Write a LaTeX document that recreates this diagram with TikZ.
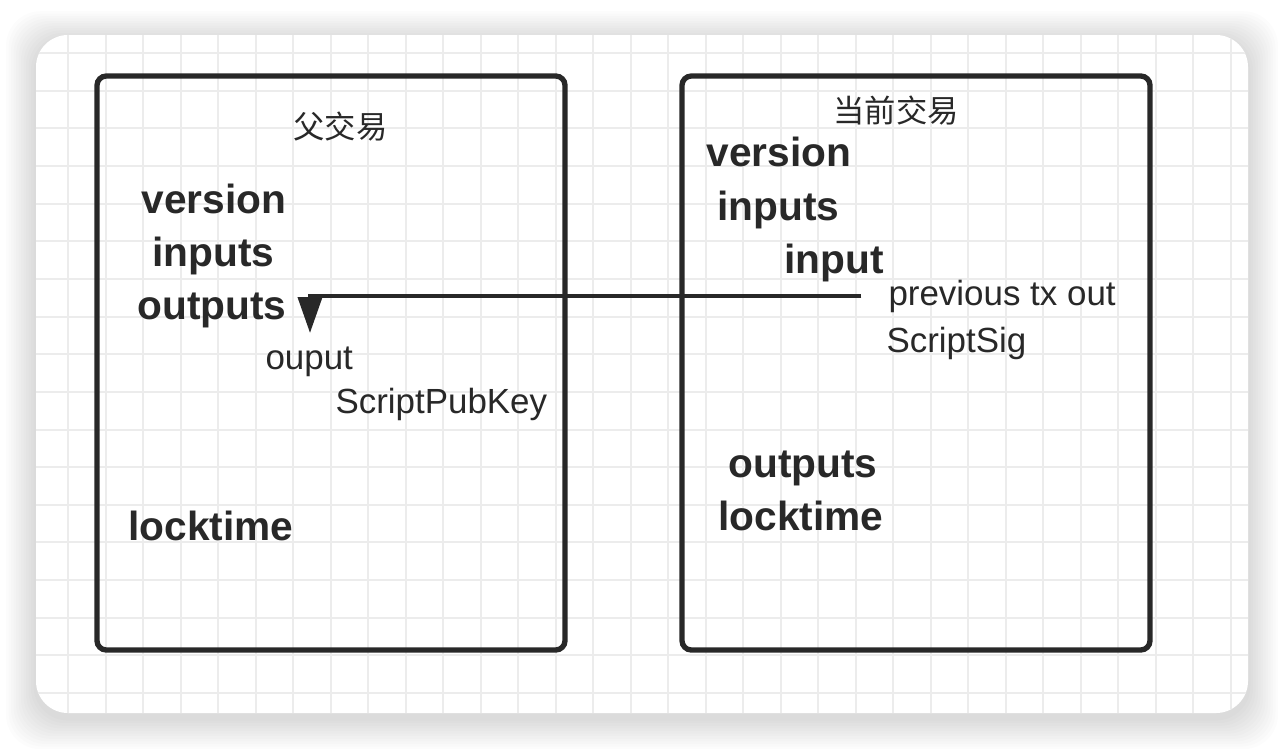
\documentclass[tikz,border=0pt]{standalone}
\usepackage{fontspec}
\setmainfont{Liberation Sans}
\newfontfamily\cjkfont{Noto Sans CJK SC}
\usetikzlibrary{arrows.meta}
\definecolor{inkgray}{RGB}{40,40,40}
\definecolor{gridgray}{RGB}{236,236,236}

\tikzset{every picture/.style={line width=0.75pt}}
\tikzset{
  txbox/.style={draw=inkgray, line width=4pt, rounded corners=7pt},
  field/.style={anchor=base west, inner sep=0pt, text=inkgray, font=\fontsize{30.5}{34}\selectfont\bfseries},
  subfield/.style={anchor=base west, inner sep=0pt, text=inkgray, font=\fontsize{26.2}{30}\selectfont},
  txtitle/.style={anchor=west, inner sep=0pt, text=inkgray, font=\cjkfont\fontsize{23.5}{28}\selectfont},
  link/.style={draw=inkgray, line width=3pt, -{Triangle[length=27pt,width=18pt]}},
}

\begin{document}
\begin{tikzpicture}[x=0.75pt,y=0.75pt,yscale=-1,xscale=1]
\useasboundingbox (0,0) rectangle (1284,750);

%Shadow of the card
\foreach \s in {1,...,12}
  \fill[black, fill opacity=0.013, rounded corners=26pt] (36-2.5*\s,40-2.4*\s) rectangle (1248+2.5*\s,718+2.6*\s);

%Card
\fill[white, rounded corners=24pt] (36,35) rectangle (1248,713);

%Grid
\begin{scope}
\clip[rounded corners=24pt] (36,35) rectangle (1248,713);
\foreach \gx in {-1,...,31}
  \draw[gridgray, line width=1.5pt] (68+37.5*\gx,35) -- (68+37.5*\gx,713);
\foreach \gy in {0,...,17}
  \draw[gridgray, line width=1.5pt] (36,53+37.65*\gy) -- (1248,53+37.65*\gy);
\end{scope}

%Shape: Parent tx box
\draw[txbox] (97,76) rectangle (565,650);
%Shape: Current tx box
\draw[txbox] (682,76) rectangle (1150,650);

% Text Node
\node[txtitle] (ptitle) at (293,127) {父交易};
% Text Node
\node[txtitle] (ctitle) at (833,111) {当前交易};

% Parent fields
\node[field] (pversion) at (141,213) {version};
\node[field] (pinputs) at (152,266) {inputs};
\node[field] (poutputs) at (137,319) {outputs};
\node[subfield] (poutput) at (265,369) {ouput};
\node[subfield] (pubkey) at (335,413) {ScriptPubKey};
\node[field] (plocktime) at (128,540) {locktime};

% Current fields
\node[field] (cversion) at (706,166) {version};
\node[field] (cinputs) at (717,220) {inputs};
\node[field] (cinput) at (784,273) {input};
\node[subfield] (prevout) at (888,305) {previous tx out};
\node[subfield] (scriptsig) at (886,352) {ScriptSig};
\node[field] (coutputs) at (728,477) {outputs};
\node[field] (clocktime) at (718,530) {locktime};

%Straight Lines: spent output reference
\coordinate (outtip) at (310,333);
\draw[link] ([xshift=-20pt]prevout.west) -| (outtip);

\end{tikzpicture}
\end{document}
